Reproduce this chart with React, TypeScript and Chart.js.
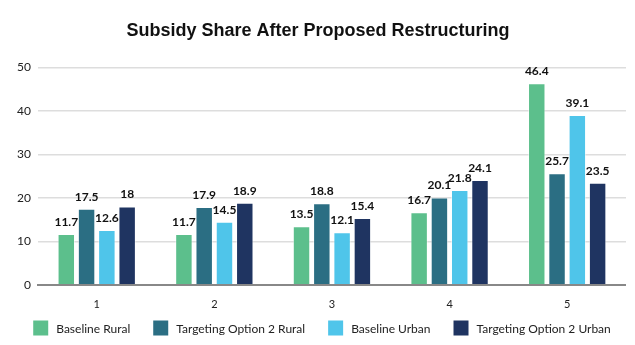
import React, { useEffect, useRef } from "react";
import { Chart, registerables } from "chart.js";

Chart.register(...registerables);

const categories = ["1", "2", "3", "4", "5"];
const baselineRural = [11.7, 11.7, 13.5, 16.7, 46.4];
const targetingRural = [17.5, 17.9, 18.8, 20.1, 25.7];
const baselineUrban = [12.6, 14.5, 12.1, 21.8, 39.1];
const targetingUrban = [18, 18.9, 15.4, 24.1, 23.5];

const seriesNames = [
  "Baseline Rural",
  "Targeting Option 2 Rural",
  "Baseline Urban",
  "Targeting Option 2 Urban",
];
const seriesColors = ["#5cbf8c", "#2b6e83", "#4fc5ea", "#1f3461"];

const FONT = "Lato, 'Open Sans', sans-serif";

const labelPlugin = {
  id: "barLabels",
  afterDatasetsDraw(chart: any) {
    const ctx = chart.ctx;
    ctx.save();
    ctx.font = `bold 12px ${FONT}`;
    ctx.fillStyle = "#111";
    ctx.textAlign = "center";
    ctx.textBaseline = "bottom";
    chart.data.datasets.forEach((ds: any, i: number) => {
      const meta = chart.getDatasetMeta(i);
      meta.data.forEach((bar: any, j: number) => {
        ctx.fillText(String(ds.data[j]), bar.x, bar.y - 6);
      });
    });
    ctx.restore();
  },
};

const legendPlugin = {
  id: "customLegend",
  afterDraw(chart: any) {
    const ctx = chart.ctx;
    const box = 15;
    const gap = 8;
    const spacing = 23;
    ctx.save();
    ctx.font = `12px ${FONT}`;
    const items = chart.data.datasets.map((ds: any) => ({
      text: ds.label,
      color: ds.backgroundColor,
      w: ctx.measureText(ds.label).width,
    }));
    const total =
      items.reduce((s: number, it: any) => s + box + gap + it.w, 0) + spacing * (items.length - 1);
    let x = (chart.width - total) / 2 + 5;
    const cy = chart.height - 16;
    ctx.textBaseline = "middle";
    ctx.textAlign = "left";
    items.forEach((it: any) => {
      ctx.fillStyle = it.color;
      ctx.fillRect(x, cy - box / 2, box, box);
      ctx.fillStyle = "#222";
      ctx.fillText(it.text, x + box + gap, cy + 1);
      x += box + gap + it.w + spacing;
    });
    ctx.restore();
  },
};

export default function App() {
  const ref = useRef<HTMLCanvasElement>(null);
  useEffect(() => {
    const all = [baselineRural, targetingRural, baselineUrban, targetingUrban];
    const chart = new Chart(ref.current!, {
      type: "bar",
      data: {
        labels: categories,
        datasets: all.map((d, i) => ({
          label: seriesNames[i],
          data: d,
          backgroundColor: seriesColors[i],
          borderColor: "rgba(255,255,255,0.5)",
          borderWidth: 1,
          categoryPercentage: 0.69,
          barPercentage: 0.86,
        })),
      },
      options: {
        animation: false,
        responsive: false,
        layout: { padding: { left: 2, right: 0, top: 0, bottom: 28 } },
        plugins: {
          title: {
            display: true,
            text: "Subsidy Share After Proposed Restructuring",
            font: { family: "'Liberation Sans', Arial, sans-serif", size: 18, weight: "bold" },
            color: "#111",
            padding: { top: 12, bottom: 26 },
          },
          legend: { display: false },
          tooltip: { enabled: false },
        },
        scales: {
          x: {
            grid: { display: false },
            border: { display: true, color: "#888", width: 2 },
            ticks: { color: "#222", font: { family: FONT, size: 11 }, padding: 5 },
          },
          y: {
            min: 0,
            max: 50,
            ticks: { stepSize: 10, color: "#222", font: { family: FONT, size: 12 }, padding: 7 },
            grid: { color: "#dddddd", lineWidth: 1.5, drawTicks: false },
            border: { display: false },
          },
        },
      },
      plugins: [labelPlugin, legendPlugin],
    });
    return () => chart.destroy();
  }, []);
  return <canvas ref={ref} width={618} height={336} style={{ display: "block" }} />;
}
